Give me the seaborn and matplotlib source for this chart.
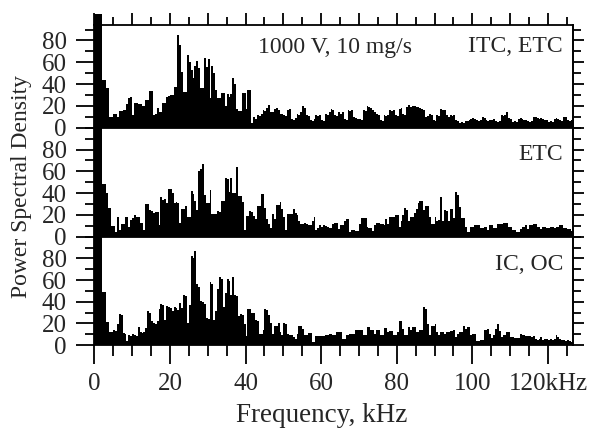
import numpy as np
import pandas as pd
import seaborn as sns
import matplotlib
matplotlib.use("Agg")
import matplotlib.pyplot as plt
from matplotlib.ticker import MultipleLocator, FixedLocator

# ---------------- data (power spectral density, 0.5 kHz bins from 0 to 127 kHz) -------------
bin_width_khz = 0.5
n_bins = 254

itc_etc = [
    104, 104, 104, 104, 44, 44, 36, 36, 10, 10,
    13, 13, 10, 15, 15, 16, 16, 22, 27, 28,
    12, 23, 23, 22, 22, 20, 20, 25, 25, 34,
    34, 12, 13, 18, 14, 14, 23, 23, 28, 29,
    30, 30, 37, 37, 85, 76, 51, 33, 33, 67,
    60, 53, 46, 57, 61, 55, 36, 36, 64, 56,
    63, 27, 57, 50, 35, 27, 27, 32, 32, 20,
    31, 28, 31, 46, 40, 17, 15, 15, 32, 32,
    17, 35, 35, 4, 10, 8, 12, 11, 13, 16,
    15, 18, 21, 14, 14, 17, 18, 16, 13, 13,
    12, 11, 16, 17, 8, 7, 9, 13, 12, 14,
    20, 18, 12, 11, 7, 6, 8, 12, 11, 12,
    7, 6, 13, 12, 14, 17, 16, 12, 11, 14,
    13, 14, 8, 7, 16, 15, 16, 10, 9, 8,
    8, 7, 16, 15, 20, 19, 18, 16, 14, 13,
    12, 7, 6, 12, 11, 12, 16, 15, 16, 12,
    11, 17, 18, 13, 12, 19, 21, 19, 20, 20,
    19, 19, 18, 17, 16, 10, 11, 13, 12, 7,
    6, 12, 11, 17, 16, 16, 12, 10, 12, 11,
    12, 7, 6, 4, 5, 4, 6, 6, 7, 8,
    9, 8, 7, 6, 7, 10, 9, 7, 6, 7,
    7, 8, 6, 5, 6, 12, 11, 12, 14, 9,
    8, 5, 6, 5, 8, 9, 8, 7, 7, 6,
    5, 6, 10, 10, 9, 8, 9, 8, 7, 7,
    5, 6, 5, 8, 9, 8, 7, 6, 10, 10,
    7, 6, 7, 8,
]

etc = [
    120, 120, 120, 120, 48, 48, 40, 26, 26, 10,
    10, 4.5, 18, 6, 12, 12, 18, 18, 9, 15,
    17, 20, 18, 18, 13, 13, 6, 30, 30, 24.5,
    24, 22, 23, 23, 10.7, 36, 34, 35, 31, 44,
    44, 40, 31, 31.5, 31, 13, 25.7, 25, 28, 18,
    18, 42, 39, 33, 24.5, 60, 62, 67, 38, 31,
    31, 43, 21, 21, 21, 23.5, 23, 33, 33, 53.5,
    53, 41, 53.5, 40, 40, 64, 37, 37, 32, 6,
    19, 19, 23.5, 23, 19, 16, 28, 28, 39, 39,
    26, 16, 12, 8, 20.5, 16, 29, 29, 32, 25,
    18, 6, 21, 21, 21, 25, 22, 20, 14, 12,
    12, 13, 11.6, 11, 10.7, 14, 18, 6, 8, 10.7,
    8.6, 10.7, 10, 9, 8, 8, 12, 13, 13, 6.7,
    11, 11, 14, 16, 16, 4.5, 6, 6, 5.5, 5.5,
    12, 17, 17, 17, 9, 8, 8, 5, 11, 13,
    13, 12, 12, 10.7, 16, 11.6, 18, 18, 18, 20,
    20, 9, 14, 20, 26.6, 24.5, 14, 18, 18, 22,
    25, 31, 33, 33, 24.5, 28, 28, 18, 12, 12,
    18, 14.7, 15, 36, 14, 24.5, 24, 14, 25, 25,
    17, 41, 38, 27.5, 17, 17, 9, 4.5, 4.5, 9,
    9, 11, 10.7, 10.7, 7.6, 7.6, 9, 9, 6, 11,
    11, 8, 8, 11.6, 11.6, 11.6, 13, 13, 13, 9,
    9, 6, 6, 4.5, 4.5, 6.7, 9, 9, 11, 6.7,
    10.7, 10.7, 12, 12, 9, 9, 6.7, 9, 9, 7.6,
    7.6, 8.6, 8.6, 7.6, 9, 9, 10.7, 10.7, 8, 8,
    7, 7, 5.5, 5.5,
]

ic_oc = [
    120, 120, 120, 120, 49, 49, 21, 21, 12, 12,
    14, 13, 19, 29, 28, 11, 10, 4, 9, 8,
    10, 9, 8, 17, 12, 11, 12, 16, 31, 30,
    22, 20, 19, 22, 33, 38, 37, 23, 36, 35,
    34, 31, 35, 34, 32, 39, 34, 46, 45, 20,
    37, 82, 80, 87, 56, 54, 41, 40, 38, 25,
    24, 58, 56, 23, 31, 52, 63, 61, 35, 48,
    61, 59, 46, 63, 46, 45, 27, 29, 28, 19,
    8.5, 33, 33, 30, 30, 23, 22, 10.6, 10.6, 13.7,
    32.8, 32, 28, 20, 10.6, 18, 18, 20.7, 12, 9,
    20, 19.8, 9.7, 9, 9, 7, 5.5, 10, 17.6, 17.6,
    15, 9, 9, 11.5, 11.5, 3, 3, 8.5, 8.5, 8.5,
    8.5, 8.5, 9, 9, 10.6, 10.6, 9, 9, 12, 12,
    12, 6, 6, 9, 9, 9.7, 9.7, 9.7, 14.3, 14.3,
    14.3, 14.3, 9, 9, 16.7, 16.7, 14.3, 14, 10.6, 14.3,
    14.3, 9, 9, 15.8, 15.8, 12, 12.8, 12.8, 9, 9,
    12, 21.9, 21.9, 15.2, 9, 9, 16.7, 13.7, 16.7, 16.7,
    12, 12, 13.7, 13.7, 35, 33, 19.8, 9, 17.6, 17.6,
    19, 12, 9, 12, 12, 10.6, 12, 12, 12.8, 13,
    13.7, 7.6, 9.7, 12, 12, 18, 15.2, 16.7, 16.7, 9,
    10, 10.6, 3.6, 3.6, 4.5, 4.5, 13.7, 13.7, 14.6, 10,
    6.7, 9, 15, 19.8, 12.8, 7.6, 9, 9, 12, 12,
    7.6, 7, 6.5, 6.5, 6.5, 10.6, 9, 9, 8, 8,
    8, 7, 8, 6, 5, 6, 7, 5, 6, 6,
    5, 6, 5, 5.5, 9, 7, 6, 5, 4.5, 4,
    5, 4, 3, 3,
]

panel_labels = ["ITC, ETC", "ETC", "IC, OC"]
condition_text = "1000 V, 10 mg/s"
x_tick_values = [0, 20, 40, 60, 80, 100, 120]
x_tick_labels = ["0", "20", "40", "60", "80", "100", "120kHz"]
y_tick_values = [0, 20, 40, 60, 80]

# ---------------- figure ----------------
sns.set_theme(style="ticks")
plt.rcParams["font.family"] = ["Liberation Serif", "DejaVu Serif"]
plt.rcParams["axes.linewidth"] = 1.3

W, H = 593, 430
fig = plt.figure(figsize=(W / 100, H / 100), dpi=100)

freq = (np.arange(n_bins) + 0.5) * bin_width_khz

left_px, right_px = 94.3, 573.3
panels_px = [(25.0, 127.7, 94.2), (127.7, 236.7, 100.0), (236.7, 345.0, 100.0)]
series = [itc_etc, etc, ic_oc]

TICK_FS = 18
for i, ((top, bot, ymax), vals) in enumerate(zip(panels_px, series)):
    ax = fig.add_axes([left_px / W, 1 - bot / H, (right_px - left_px) / W, (bot - top) / H])
    df = pd.DataFrame({"freq": freq, "psd": vals})
    sns.barplot(data=df, x="freq", y="psd", native_scale=True, orient="x", width=1.0,
                color="black", saturation=1, errorbar=None, linewidth=0, ax=ax)
    ax.set_xlim(0, 126.7)
    ax.set_ylim(0, ymax)
    ax.set_xlabel("")
    ax.set_ylabel("")
    for s in ax.spines.values():
        s.set_visible(True)
        s.set_linewidth(1.3)
        s.set_color("black")
    # left y ticks (labelled)
    ax.yaxis.set_major_locator(FixedLocator(y_tick_values))
    ax.yaxis.set_minor_locator(MultipleLocator(10))
    ax.tick_params(axis="y", which="both", left=True, right=False, direction="out",
                   labelleft=True, labelright=False, width=1.3, color="black",
                   labelsize=TICK_FS, pad=7)
    ax.tick_params(axis="y", which="major", length=13)
    ax.tick_params(axis="y", which="minor", length=6.5)
    # right y ticks (shorter, unlabelled)
    sec = ax.secondary_yaxis("right")
    sec.yaxis.set_major_locator(FixedLocator(y_tick_values))
    sec.yaxis.set_minor_locator(MultipleLocator(10))
    sec.tick_params(axis="y", which="both", direction="out", width=1.3, color="black",
                    labelright=False)
    sec.tick_params(axis="y", which="major", length=7.6)
    sec.tick_params(axis="y", which="minor", length=5.8)
    sec.spines["right"].set_linewidth(1.3)
    if i == 0:
        for p in ax.patches:
            p.set_clip_on(False)
        ax.xaxis.set_major_locator(MultipleLocator(10))
        ax.xaxis.set_minor_locator(MultipleLocator(5))
        ax.tick_params(axis="x", which="both", top=True, bottom=False, labeltop=False,
                       labelbottom=False, direction="out", width=1.3, color="black")
        ax.tick_params(axis="x", which="major", length=8.5)
        ax.tick_params(axis="x", which="minor", length=5.5)
    elif i == 1:
        ax.tick_params(axis="x", which="both", top=False, bottom=False,
                       labelbottom=False, labeltop=False)
    else:
        ax.xaxis.set_major_locator(FixedLocator(x_tick_values))
        ax.set_xticklabels(x_tick_labels)
        ax.xaxis.set_minor_locator(MultipleLocator(5))
        ax.tick_params(axis="x", which="both", top=False, bottom=True, direction="out",
                       width=1.3, color="black", labelsize=TICK_FS, pad=7)
        ax.tick_params(axis="x", which="major", length=13.5)
        ax.tick_params(axis="x", which="minor", length=7.6)

# panel annotations
fig.text(335 / W, 1 - 47 / H, condition_text, ha="center", va="center", fontsize=17)
fig.text(563 / W, 1 - 47 / H, panel_labels[0], ha="right", va="center", fontsize=17)
fig.text(563 / W, 1 - 155 / H, panel_labels[1], ha="right", va="center", fontsize=17)
fig.text(563 / W, 1 - 265 / H, panel_labels[2], ha="right", va="center", fontsize=17)

fig.text(22 / W, 1 - 186 / H, "Power Spectral Density", rotation=90,
         ha="center", va="center", fontsize=17)
fig.text(322 / W, 1 - 416 / H, "Frequency, kHz", ha="center", va="center", fontsize=19.5)

fig.savefig("out.png", dpi=100)
